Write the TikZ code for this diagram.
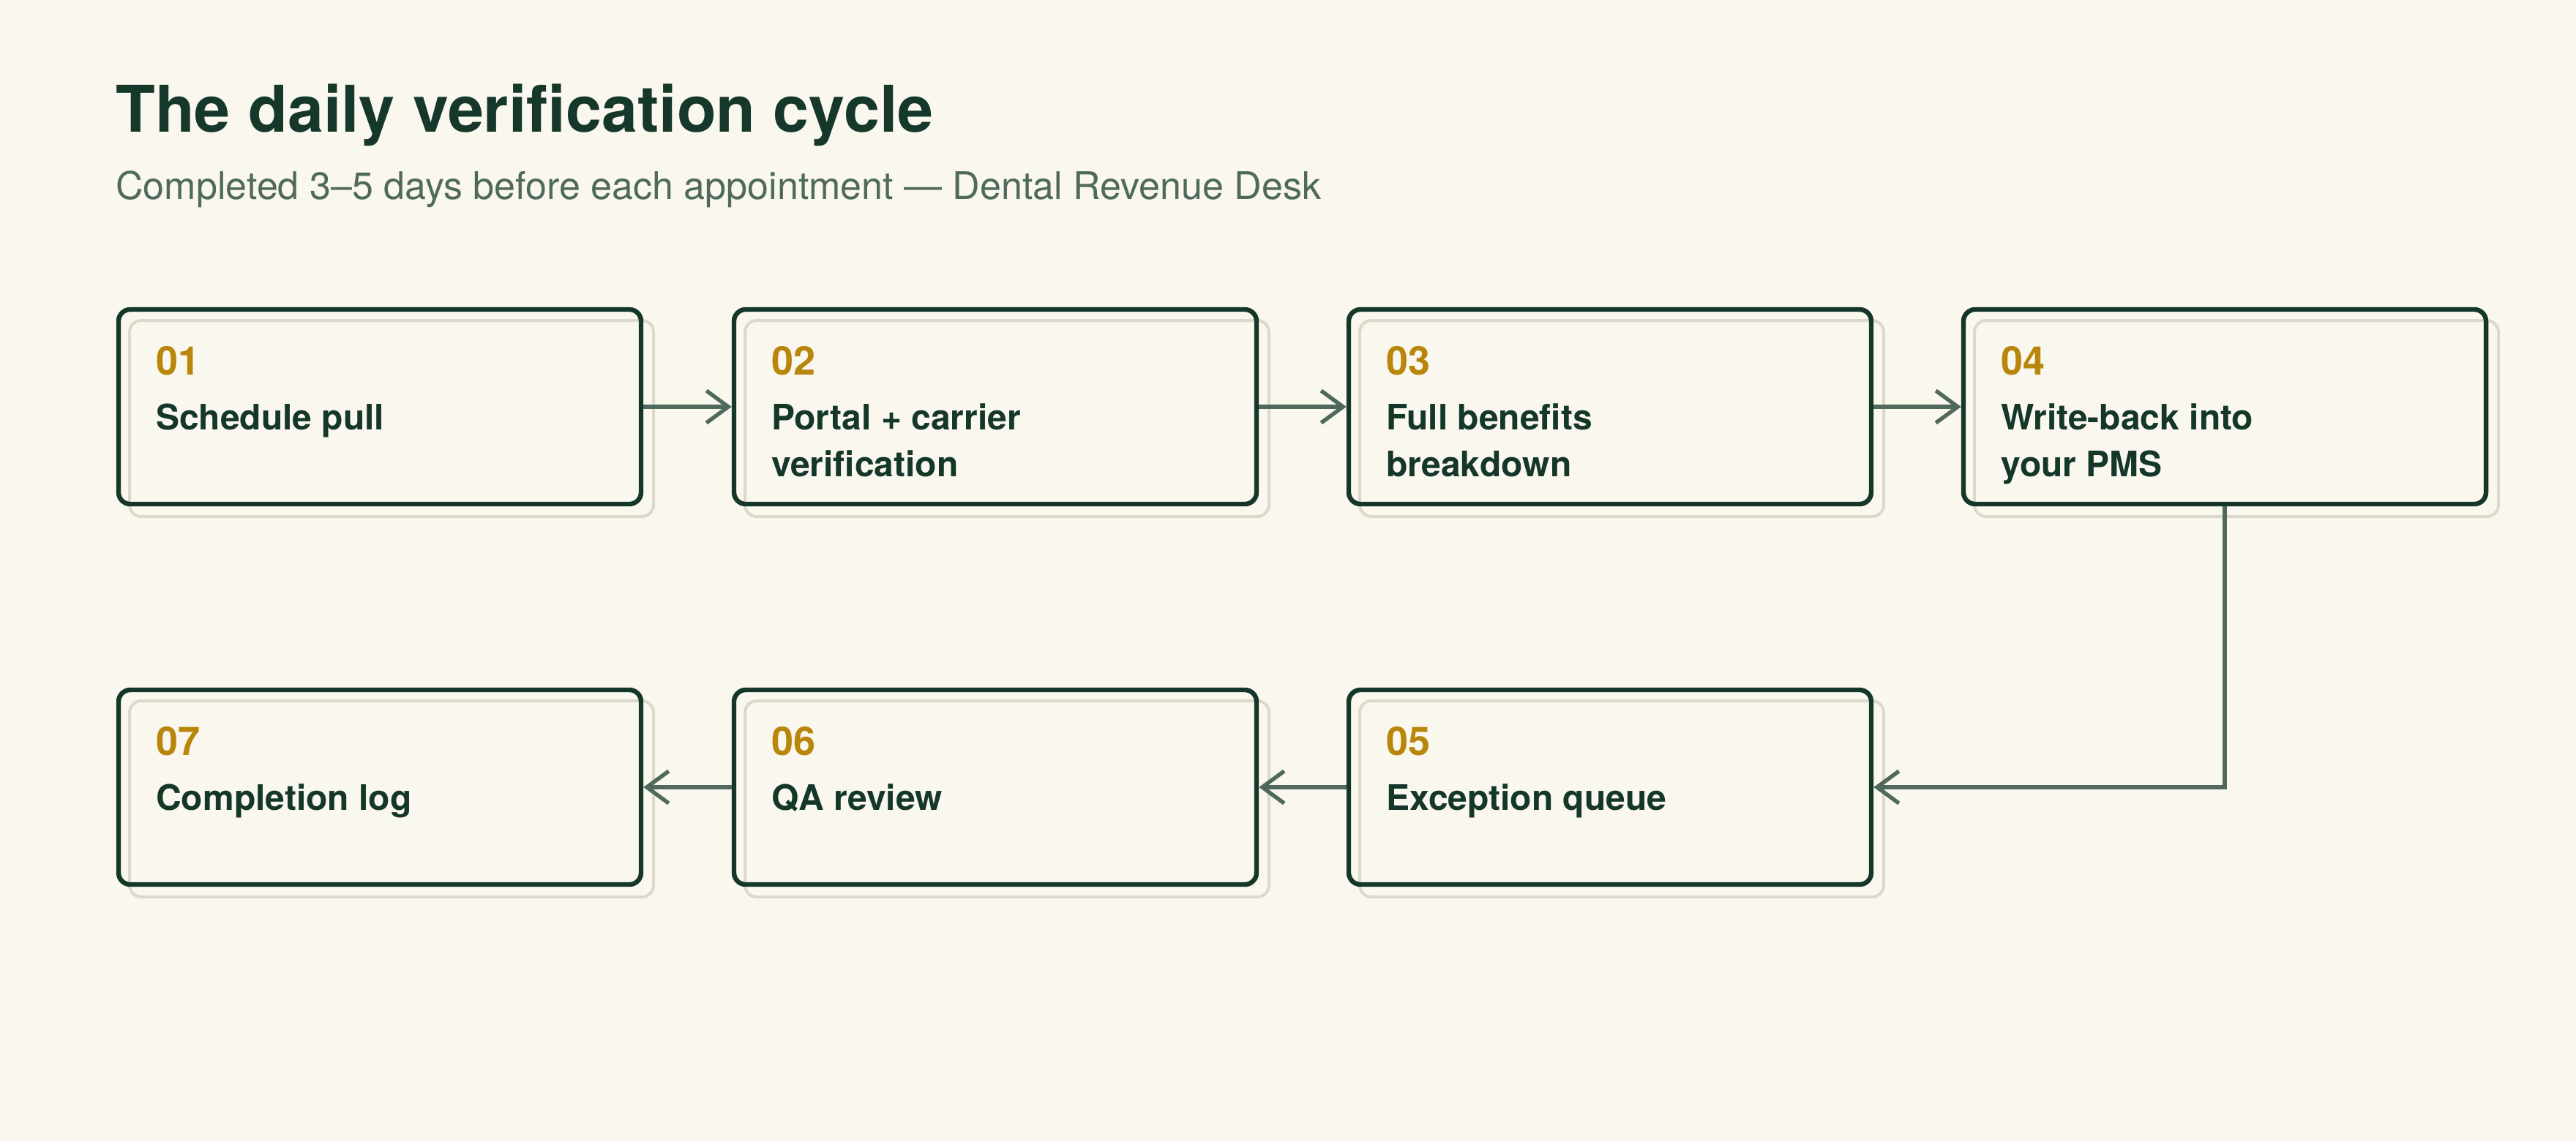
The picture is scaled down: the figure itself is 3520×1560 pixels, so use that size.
\documentclass[tikz,border=0pt]{standalone}
\usepackage{fontspec}
\setmainfont{TeX Gyre Heros}
\usetikzlibrary{arrows.meta,calc}
\definecolor{bgc}{HTML}{FAF7EF}
\definecolor{titlec}{HTML}{15382B}
\definecolor{subc}{HTML}{4F6A5C}
\definecolor{numc}{HTML}{B8860B}
\definecolor{boxc}{HTML}{14372A}
\definecolor{shadowc}{HTML}{DCD9CA}
\definecolor{flowc}{HTML}{4F6A5C}
\begin{document}
\begin{tikzpicture}[x=0.5pt,y=-0.5pt,
  stepbox/.style={draw=boxc, line width=3.2pt, rounded corners=8pt, minimum width=357pt, minimum height=133pt, inner sep=0pt},
  shadowbox/.style={draw=shadowc, line width=2pt, rounded corners=8pt, minimum width=358pt, minimum height=134pt, inner sep=0pt},
  numtext/.style={anchor=base west, inner sep=0pt, text=numc, font=\fontsize{27}{32}\selectfont\bfseries},
  labeltext/.style={anchor=base west, inner sep=0pt, text=boxc, align=left, font=\fontsize{24}{31.75}\selectfont\bfseries},
  flow/.style={draw=flowc, line width=2.7pt, -{Straight Barb[length=15pt,width=22pt]}}
]
\fill[bgc] (0,0) rectangle (3520,1560);
\useasboundingbox (0,0) rectangle (3520,1560);

\node[anchor=base west, inner sep=0pt, text=titlec, font=\fontsize{44}{52}\selectfont\bfseries] (title) at (158,180) {The daily verification cycle};
\node[anchor=base west, inner sep=0pt, text=subc, font=\fontsize{26}{32}\selectfont] (subtitle) at (158,272) {Completed 3–5 days before each appointment — Dental Revenue Desk};

% shadow boxes
\node[shadowbox] (s1) at (535,572) {};
\node[shadowbox] (s2) at (1376,572) {};
\node[shadowbox] (s3) at (2216,572) {};
\node[shadowbox] (s4) at (3056,572) {};
\node[shadowbox] (s5) at (2216,1092) {};
\node[shadowbox] (s6) at (1376,1092) {};
\node[shadowbox] (s7) at (535,1092) {};

% main boxes
\node[stepbox] (b1) at (519,556) {};
\node[stepbox] (b2) at (1360,556) {};
\node[stepbox] (b3) at (2200,556) {};
\node[stepbox] (b4) at (3040,556) {};
\node[stepbox] (b5) at (2200,1076) {};
\node[stepbox] (b6) at (1360,1076) {};
\node[stepbox] (b7) at (519,1076) {};

% texts (base anchor of a two-line node is its last line)
\node[numtext] (n1) at ($(b1.north west)+(54,93)$) {01};
\node[labeltext] (l1) at ($(b1.north west)+(54,168)$) {Schedule pull};
\node[numtext] (n2) at ($(b2.north west)+(54,93)$) {02};
\node[labeltext] (l2) at ($(b2.north west)+(54,231.5)$) {Portal + carrier\\verification};
\node[numtext] (n3) at ($(b3.north west)+(54,93)$) {03};
\node[labeltext] (l3) at ($(b3.north west)+(54,231.5)$) {Full benefits\\breakdown};
\node[numtext] (n4) at ($(b4.north west)+(54,93)$) {04};
\node[labeltext] (l4) at ($(b4.north west)+(54,231.5)$) {Write-back into\\your PMS};
\node[numtext] (n5) at ($(b5.north west)+(54,93)$) {05};
\node[labeltext] (l5) at ($(b5.north west)+(54,168)$) {Exception queue};
\node[numtext] (n6) at ($(b6.north west)+(54,93)$) {06};
\node[labeltext] (l6) at ($(b6.north west)+(54,168)$) {QA review};
\node[numtext] (n7) at ($(b7.north west)+(54,93)$) {07};
\node[labeltext] (l7) at ($(b7.north west)+(54,168)$) {Completion log};

% connectors
\draw[flow] (b1.east) -- (b2.west);
\draw[flow] (b2.east) -- (b3.west);
\draw[flow] (b3.east) -- (b4.west);
\draw[flow] (b4.south) |- (b5.east);
\draw[flow] (b5.west) -- (b6.east);
\draw[flow] (b6.west) -- (b7.east);
\end{tikzpicture}
\end{document}
